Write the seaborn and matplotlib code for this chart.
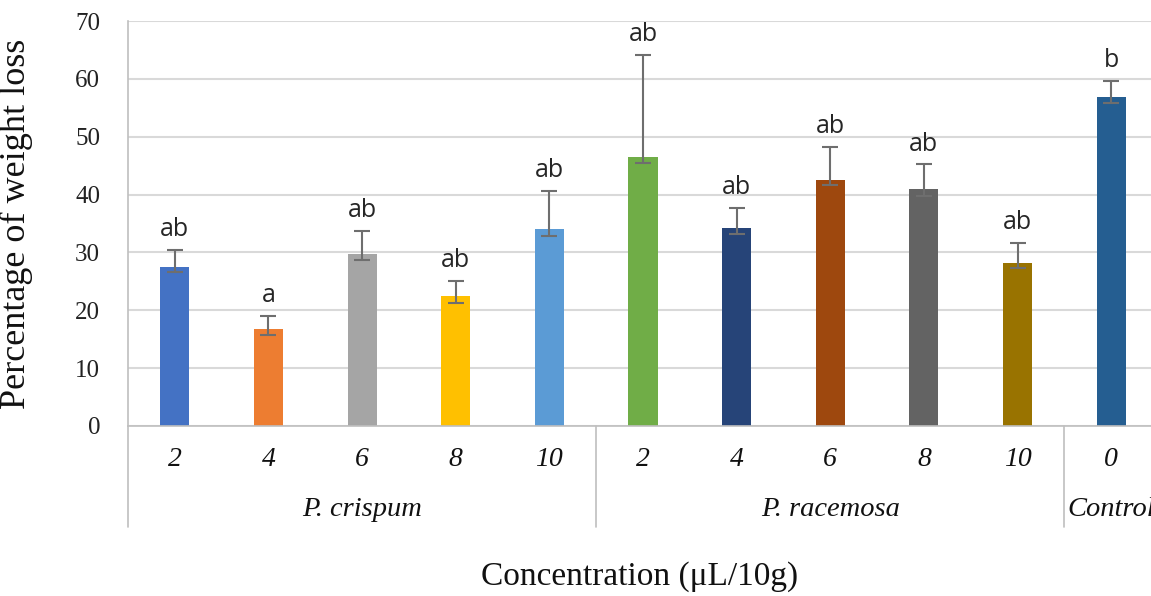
import matplotlib
matplotlib.use("Agg")
import matplotlib.pyplot as plt
import matplotlib.transforms as mtransforms
import seaborn as sns
import pandas as pd

# data
groups = ["P. crispum"] * 5 + ["P. racemosa"] * 5 + ["Control"]
concentrations = ["2", "4", "6", "8", "10", "2", "4", "6", "8", "10", "0"]
weight_loss = [27.4, 16.7, 29.7, 22.4, 34.0, 46.5, 34.2, 42.5, 40.9, 28.1, 56.9]
err_low = [0.8, 1.0, 1.0, 1.1, 1.1, 1.0, 1.0, 0.8, 1.1, 0.8, 1.0]
err_high = [3.0, 2.3, 4.0, 2.7, 6.7, 17.7, 3.5, 5.8, 4.3, 3.6, 2.8]
letters = ["ab", "a", "ab", "ab", "ab", "ab", "ab", "ab", "ab", "ab", "b"]
group_names = ["P. crispum", "P. racemosa", "Control"]

bar_colors = ["#4472C4", "#ED7D31", "#A5A5A5", "#FFC000", "#5B9BD5", "#70AD47",
              "#264478", "#9E480E", "#636363", "#997300", "#255E91"]

df = pd.DataFrame({
    "key": [f"{g} {c}" for g, c in zip(groups, concentrations)],
    "group": groups,
    "conc": concentrations,
    "loss": weight_loss,
})

sns.set_style("white")
plt.rcParams["font.family"] = ["Liberation Serif", "DejaVu Serif"]

W, H = 1151, 596
fig = plt.figure(figsize=(W / 100, H / 100), dpi=100)
# the original chart is wider than the picture, the right edge is cut off
ax = fig.add_axes([128 / W, (H - 426) / H, 1030 / W, 405 / H])

sns.barplot(data=df, x="key", y="loss", hue="key", palette=bar_colors,
            width=0.31, legend=False, ax=ax, errorbar=None, saturation=1,
            edgecolor="none")

xs = ax.get_xticks()
ax.errorbar(xs, weight_loss, yerr=[err_low, err_high], fmt="none",
            ecolor="#6e6e6e", elinewidth=1.5, capsize=5.5, capthick=1.5)

for x, y, up, lab in zip(xs, weight_loss, err_high, letters):
    ax.annotate(lab, (x, y + up), xytext=(0, 10), textcoords="offset points",
                ha="center", va="baseline", fontsize=18, family="Open Sans")

ax.set_xlim(-0.5, len(weight_loss) - 0.5)
ax.set_ylim(0, 70)
ax.set_yticks(range(0, 71, 10))
ax.yaxis.grid(True, color="#d9d9d9", linewidth=1.5)
ax.set_axisbelow(True)
for side in ["top", "right"]:
    ax.spines[side].set_visible(False)
for side in ["left", "bottom"]:
    ax.spines[side].set_color("#bfbfbf")
    ax.spines[side].set_linewidth(1.2)
ax.tick_params(axis="y", length=0, pad=20, labelsize=18, labelcolor="#222222")
ax.tick_params(axis="x", length=0)
ax.set_xticks(xs)
ax.set_xticklabels([])

trans = mtransforms.blended_transform_factory(ax.transData, ax.transAxes)
for x, c in zip(xs, concentrations):
    ax.text(x, -0.083, c, transform=trans, ha="center", va="center",
            fontsize=20, style="italic", color="#111111")

# group labels and separators under the axis
bounds = [-0.5]
for i in range(1, len(groups)):
    if groups[i] != groups[i - 1]:
        bounds.append(i - 0.5)
bounds.append(len(groups) - 0.5)
for b in bounds[:-1]:
    ax.plot([b, b], [0, -0.25], transform=trans, color="#bfbfbf",
            linewidth=1.2, clip_on=False)
for name, lo, hi in zip(group_names, bounds[:-1], bounds[1:]):
    ax.text((lo + hi) / 2, -0.207, name, transform=trans, ha="center",
            va="center", fontsize=20.5, style="italic", color="#111111")

ax.set_xlabel("")
ax.set_ylabel("Percentage of weight loss", fontsize=26, color="#111111")
ax.yaxis.set_label_coords(-0.092, 0.5)
fig.text(640 / W, 1 - 577 / H, "Concentration (\u03bcL/10g)", ha="center",
         va="center", fontsize=24, color="#111111")

fig.savefig("out.png", dpi=100)
